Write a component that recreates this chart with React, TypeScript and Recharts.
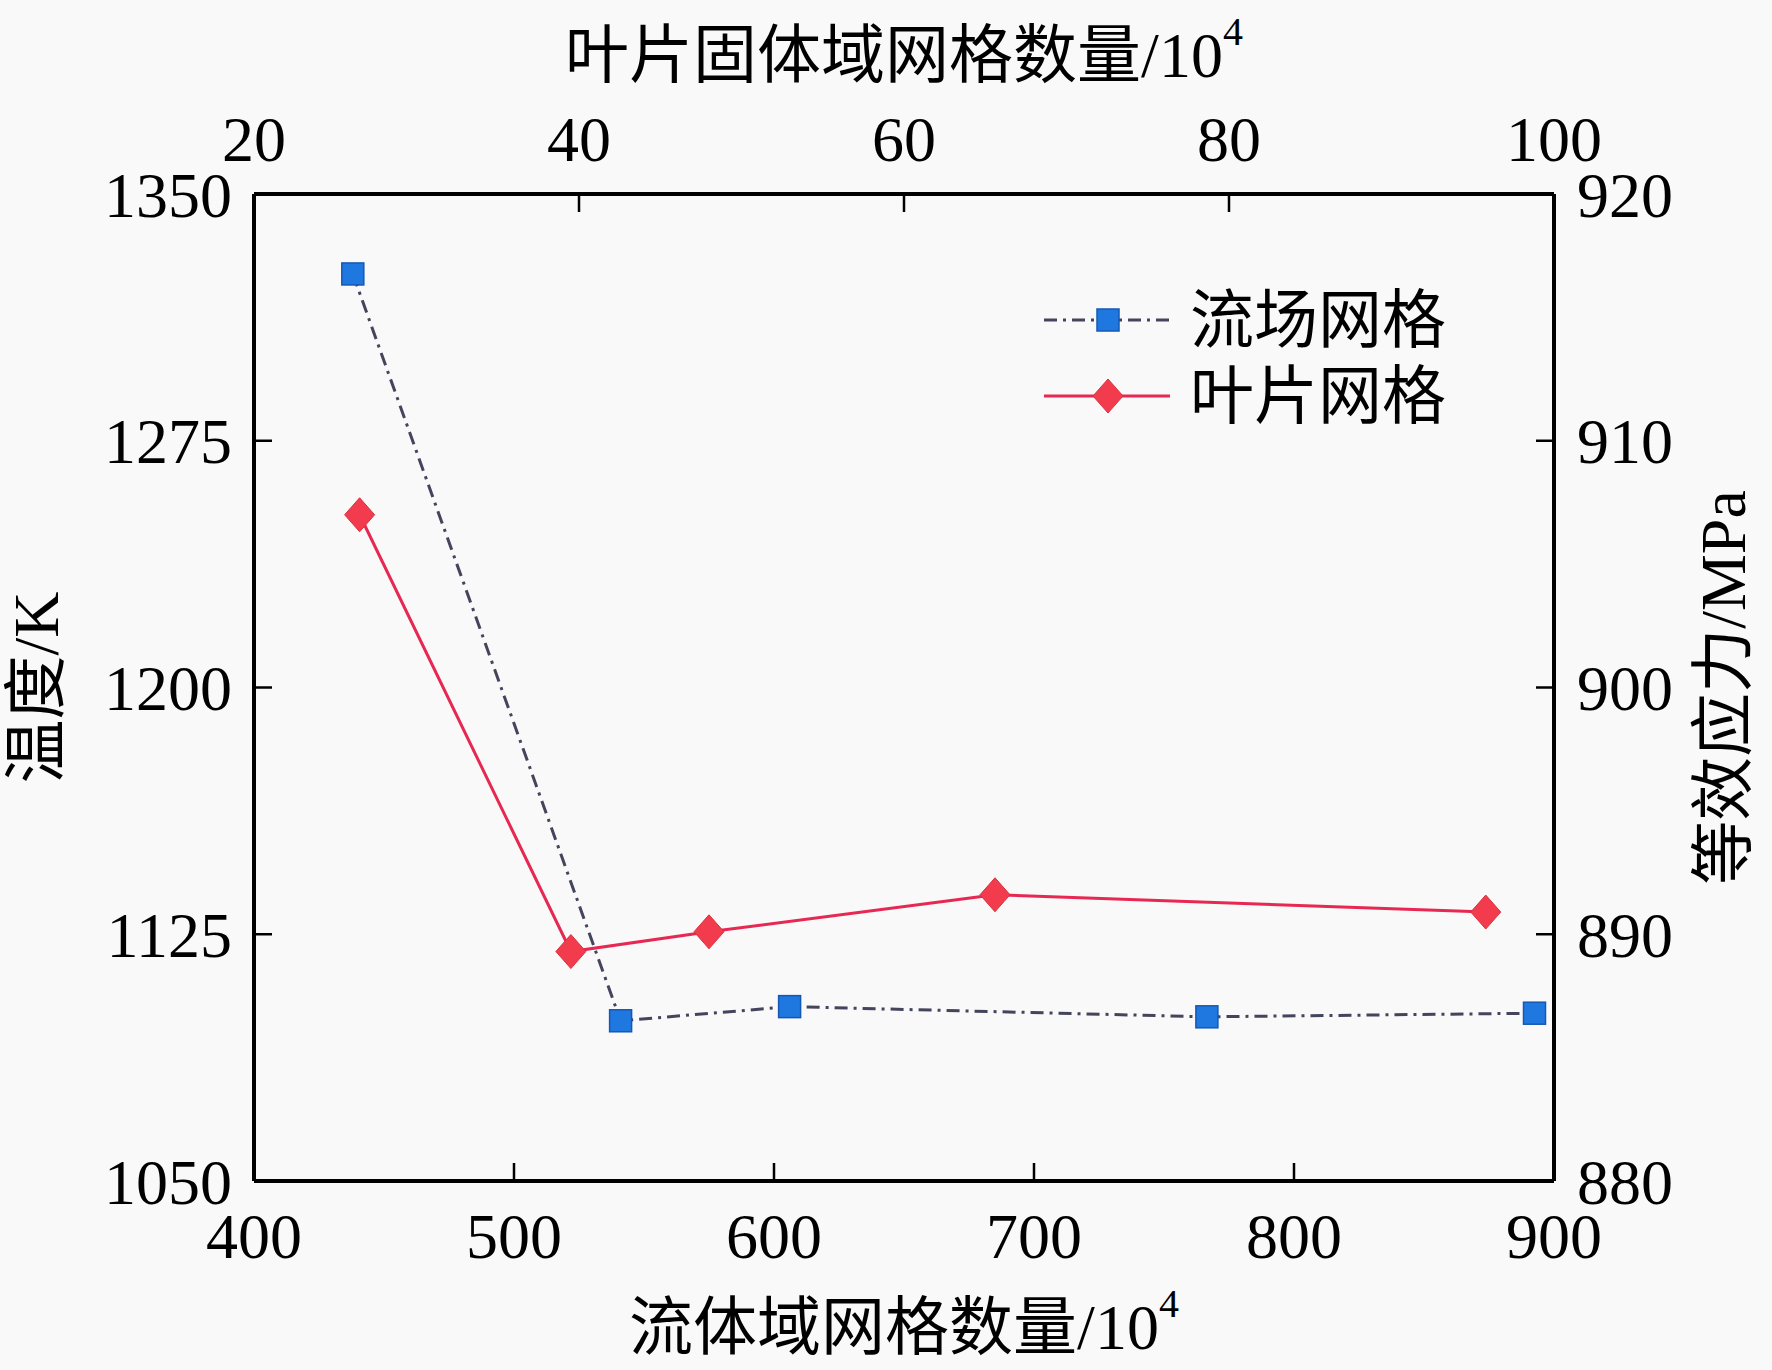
import React from "react"
import {
  ComposedChart,
  Line,
  XAxis,
  YAxis,
  Legend,
} from "recharts"

// 流场网格: fluid-domain cell count (x10^4) vs temperature (K)
const fluidCells = [438, 541, 606, 766.5, 892.5]
const fluidTemp = [1325.7, 1098.7, 1103, 1099.9, 1101]

// 叶片网格: blade solid-domain cell count (x10^4) vs equivalent stress (MPa)
const bladeCells = [26.5, 39.5, 48, 65.6, 95.8]
const bladeStress = [907, 889.3, 890.1, 891.6, 890.9]

const bottomTicks = [400, 500, 600, 700, 800, 900]
const topTicks = [20, 40, 60, 80, 100]
const leftTicks = [1050, 1125, 1200, 1275, 1350]
const rightTicks = [880, 890, 900, 910, 920]

const fluidData = fluidCells.map((x, i) => ({ x, y: fluidTemp[i] }))
const bladeData = bladeCells.map((x, i) => ({ x, y: bladeStress[i] }))

const W = 1772
const H = 1370
const SERIF = "'Liberation Serif', 'Times New Roman', 'Noto Sans CJK SC', serif"
const FS = 64
const BLUE = "#1f78e0"
const BLUE_EDGE = "#1558b4"
const BLUE_LINE = "#44445c"
const RED = "#f23c4e"
const RED_LINE = "#e62852"
const DASH = "13 6 3 6"

const tickStyle = { fontSize: FS, fill: "#000", fontFamily: SERIF }

const Square = (props: any) => {
  const { cx, cy } = props
  if (cx == null || cy == null) return null
  return (
    <rect x={cx - 11} y={cy - 11} width={22} height={22} fill={BLUE} stroke={BLUE_EDGE} strokeWidth={1.5} />
  )
}

const Diamond = (props: any) => {
  const { cx, cy } = props
  if (cx == null || cy == null) return null
  return (
    <polygon
      points={`${cx},${cy - 17} ${cx + 15},${cy} ${cx},${cy + 17} ${cx - 15},${cy}`}
      fill={RED}
      stroke="#d8303f"
      strokeWidth={1}
    />
  )
}

// axis title; horizontal ones sit at a fixed y inside the axis band, vertical ones at a fixed x
const title = (text: string, pos: number, vertical = false) => (props: any) => {
  const vb = props.viewBox || {}
  const x = vertical ? vb.x + pos : vb.x + vb.width / 2
  const y = vertical ? vb.y + vb.height / 2 : vb.y + pos
  const sup = text.endsWith("/10")
  return (
    <text
      x={x}
      y={y}
      textAnchor="middle"
      dominantBaseline="central"
      fontFamily={SERIF}
      fontSize={FS}
      fill="#000"
      transform={vertical ? `rotate(-90 ${x} ${y})` : undefined}
    >
      {text}
      {sup && <tspan fontSize={40} dy={-24}>4</tspan>}
    </text>
  )
}

const LegendBox = () => {
  const rows = [
    { name: "流场网格", kind: "square" },
    { name: "叶片网格", kind: "diamond" },
  ]
  return (
    <svg width={440} height={160}>
      {rows.map((r, i) => {
        const cy = 38 + i * 76
        return (
          <g key={r.name}>
            {r.kind === "square" ? (
              <>
                <line x1={4} x2={130} y1={cy} y2={cy} stroke={BLUE_LINE} strokeWidth={3} strokeDasharray={DASH} />
                <Square cx={68} cy={cy} />
              </>
            ) : (
              <>
                <line x1={4} x2={130} y1={cy} y2={cy} stroke={RED_LINE} strokeWidth={3} />
                <Diamond cx={68} cy={cy} />
              </>
            )}
            <text x={150} y={cy} dominantBaseline="central" fontFamily={SERIF} fontSize={FS} fill="#000">
              {r.name}
            </text>
          </g>
        )
      })}
    </svg>
  )
}

export default function App() {
  return (
    <div style={{ position: "absolute", left: 0, top: 0, width: W, height: H, background: "#f9f9f9" }}>
      <ComposedChart width={W} height={H} margin={{ top: 0, right: 0, bottom: 0, left: 0 }}>
        <XAxis
          xAxisId="bottom"
          orientation="bottom"
          type="number"
          dataKey="x"
          domain={[400, 900]}
          ticks={bottomTicks}
          allowDataOverflow
          height={189}
          axisLine={{ stroke: "#000", strokeWidth: 4 }}
          tickLine={{ stroke: "#000", strokeWidth: 2.5 }}
          tickSize={-18}
          tickMargin={50}
          tick={tickStyle}
          label={{ content: title("流体域网格数量/10", 146) as any }}
        />
        <XAxis
          xAxisId="top"
          orientation="top"
          type="number"
          dataKey="x"
          domain={[20, 100]}
          ticks={topTicks}
          allowDataOverflow
          height={194}
          axisLine={{ stroke: "#000", strokeWidth: 4 }}
          tickLine={{ stroke: "#000", strokeWidth: 2.5 }}
          tickSize={-18}
          tickMargin={51}
          tick={tickStyle}
          label={{ content: title("叶片固体域网格数量/10", 55) as any }}
        />
        <YAxis
          yAxisId="left"
          orientation="left"
          type="number"
          domain={[1050, 1350]}
          ticks={leftTicks}
          allowDataOverflow
          width={254}
          axisLine={{ stroke: "#000", strokeWidth: 4 }}
          tickLine={{ stroke: "#000", strokeWidth: 2.5 }}
          tickSize={-18}
          tickMargin={40}
          tick={tickStyle}
          label={{ content: title("温度/K", 36, true) as any }}
        />
        <YAxis
          yAxisId="right"
          orientation="right"
          type="number"
          domain={[880, 920]}
          ticks={rightTicks}
          allowDataOverflow
          width={218}
          axisLine={{ stroke: "#000", strokeWidth: 4 }}
          tickLine={{ stroke: "#000", strokeWidth: 2.5 }}
          tickSize={-18}
          tickMargin={41}
          tick={tickStyle}
          label={{ content: title("等效应力/MPa", 169, true) as any }}
        />
        <Line
          name="流场网格"
          data={fluidData}
          dataKey="y"
          xAxisId="bottom"
          yAxisId="left"
          type="linear"
          stroke={BLUE_LINE}
          strokeWidth={3}
          strokeDasharray={DASH}
          dot={<Square />}
          activeDot={false}
          isAnimationActive={false}
        />
        <Line
          name="叶片网格"
          data={bladeData}
          dataKey="y"
          xAxisId="top"
          yAxisId="right"
          type="linear"
          stroke={RED_LINE}
          strokeWidth={3}
          dot={<Diamond />}
          activeDot={false}
          isAnimationActive={false}
        />
        <Legend
          layout="horizontal"
          verticalAlign="middle"
          align="center"
          content={<LegendBox />}
          wrapperStyle={{ position: "absolute", left: 1040, top: 282, width: 440, height: 160 }}
        />
      </ComposedChart>
    </div>
  )
}
